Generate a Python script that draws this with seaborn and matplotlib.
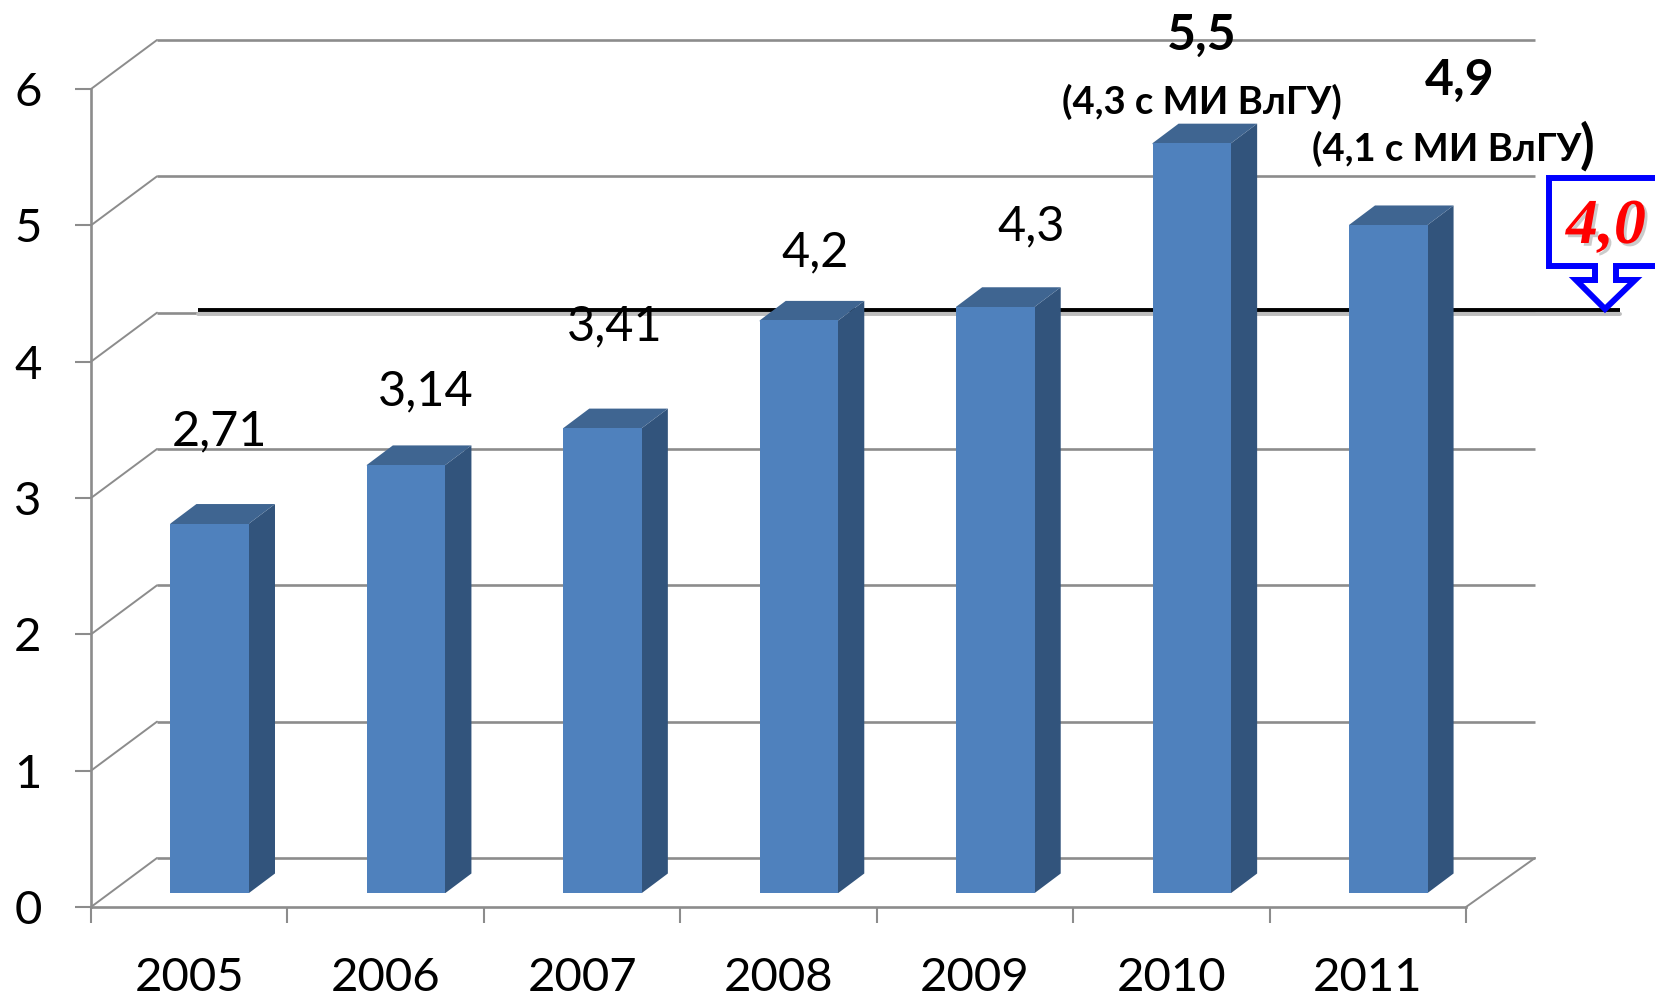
import matplotlib
matplotlib.use('Agg')
import matplotlib.pyplot as plt
import matplotlib.patheffects as pe
from matplotlib.patches import Polygon
from matplotlib.transforms import Affine2D
import seaborn as sns

years = ['2005', '2006', '2007', '2008', '2009', '2010', '2011']
values = [2.71, 3.14, 3.41, 4.2, 4.3, 5.5, 4.9]
y_ticks = [0, 1, 2, 3, 4, 5, 6]
plain_labels = ['2,71', '3,14', '3,41', '4,2', '4,3']
bold_labels = ['5,5', '4,9']
note_labels = ['(4,3 с МИ ВлГУ)', '(4,1 с МИ ВлГУ']

W, H = 1655, 998
GRID = '#8c8c8c'
FRONT, TOP, SIDE = '#4f81bd', '#3f6591', '#32547c'

sns.set_theme(style='white')
plt.rcParams['font.family'] = ['Lato', 'Open Sans', 'DejaVu Sans']

fig = plt.figure(figsize=(W / 100, H / 100), dpi=100)
ax = fig.add_axes([91 / W, (H - 907) / H, 1375 / W, 818 / H])

sns.barplot(x=years, y=values, color=FRONT, saturation=1, width=0.4, ax=ax, zorder=5)
ax.set_xlim(-0.5, 6.5)
ax.set_ylim(0, 6)

# pixels to data units
ux = 7 / 1375
uy = 6 / 818

# pixel coordinates for text and the callout
px = Affine2D().scale(1 / W, -1 / H).translate(0, 1) + fig.transFigure

# back wall
back_x, back_y = 66 * ux, 49 * uy
wall_end = 6.5 + 69 * ux
for v in y_ticks:
    ax.plot([-0.5 + back_x, wall_end], [v + back_y, v + back_y], color=GRID, lw=1.9,
            clip_on=False, zorder=1, solid_capstyle='butt')
    ax.plot([-0.5, -0.5 + back_x], [v, v + back_y], color=GRID, lw=1.4, clip_on=False, zorder=1)
ax.plot([6.5, wall_end], [0, back_y], color=GRID, lw=1.4, clip_on=False, zorder=1)

# target line with shadow
ax.plot([198, 1620], [314, 314], transform=px, color='#bdbdbd', lw=2.8, clip_on=False, zorder=2)
ax.plot([198, 1620], [310.5, 310.5], transform=px, color='black', lw=2.8, clip_on=False, zorder=3,
        solid_capstyle='butt')

# 3d faces of the bars, pulled one pixel under the front so no seam shows
shift_x, shift_y = 20.5 * ux, 14 * uy
depth_x, depth_y = 26 * ux, 19.5 * uy
for bar in ax.patches:
    bar.set_x(bar.get_x() + shift_x)
    bar.set_y(shift_y)
    bar.set_linewidth(0)
    x0, x1 = bar.get_x(), bar.get_x() + bar.get_width()
    y0, y1 = bar.get_y(), bar.get_y() + bar.get_height()
    ax.add_patch(Polygon([(x1 - ux, y0), (x1, y0), (x1 + depth_x, y0 + depth_y), (x1 + depth_x, y1 + depth_y),
                          (x1, y1), (x1 - ux, y1)],
                         closed=True, fc=SIDE, ec='none', zorder=4, clip_on=False))
    ax.add_patch(Polygon([(x0, y1 - uy), (x1, y1 - uy), (x1, y1), (x1 + depth_x, y1 + depth_y),
                          (x0 + depth_x, y1 + depth_y), (x0, y1)],
                         closed=True, fc=TOP, ec='none', zorder=4, clip_on=False))

# axes and ticks
sns.despine(ax=ax, top=True, right=True)
for side in ['left', 'bottom']:
    ax.spines[side].set_color(GRID)
    ax.spines[side].set_linewidth(1.9)
ax.set_yticks(y_ticks)
ax.set_yticklabels([str(v) for v in y_ticks])
ax.set_xticks([i - 0.5 for i in range(8)])
ax.set_xticklabels([])
ax.set_xticks(range(7), labels=years, minor=True)
ax.tick_params(axis='x', which='major', length=11.5, width=1.5, color=GRID, bottom=True)
ax.tick_params(axis='x', which='minor', length=0, pad=36, labelsize=34, labelcolor='black', bottom=False)
ax.tick_params(axis='y', length=11.5, width=1.5, color=GRID, left=True, pad=24, labelsize=34, labelcolor='black')
ax.set_xlabel('')
ax.set_ylabel('')

# value labels
plain_pos = [(219, 431), (426, 391), (615, 326), (815, 252), (1031, 226)]
for txt, pos in zip(plain_labels, plain_pos):
    ax.text(pos[0], pos[1], txt, transform=px, ha='center', va='center', fontsize=35,
            color='black', clip_on=False, zorder=6)

bold_pos = [(1202, 35), (1460, 80)]
for txt, pos in zip(bold_labels, bold_pos):
    ax.text(pos[0], pos[1], txt, transform=px, ha='center', va='center', fontsize=36, fontweight='bold',
            color='black', clip_on=False, zorder=6)

ax.text(1202, 102, note_labels[0], transform=px, ha='center', va='center', fontsize=27.5, fontweight='bold',
        color='black', clip_on=False, zorder=6)
ax.text(1312, 149, note_labels[1], transform=px, ha='left', va='center', fontsize=27.5, fontweight='bold',
        color='black', clip_on=False, zorder=6)
ax.text(1587, 146, ')', transform=px, ha='center', va='center', fontsize=39, fontweight='bold',
        color='black', clip_on=False, zorder=6)

# callout
callout = Polygon([(1549, 178), (1670, 178), (1670, 266), (1616, 266), (1616, 280), (1635, 280),
                   (1605, 309), (1576, 280), (1595, 280), (1595, 266), (1549, 266)],
                  closed=True, transform=px, fc='white', ec='#0000ff', lw=4.3, joinstyle='miter',
                  clip_on=False, zorder=7)
ax.add_patch(callout)
ax.text(1606, 228, '4,0', transform=px, ha='center', va='center', fontsize=46, color='#ff0000',
        family='Liberation Serif', fontweight='bold', fontstyle='italic', clip_on=False, zorder=8,
        path_effects=[pe.withSimplePatchShadow(offset=(2, -2), shadow_rgbFace='#999999', alpha=0.5)])

fig.savefig('out.png', dpi=100)
